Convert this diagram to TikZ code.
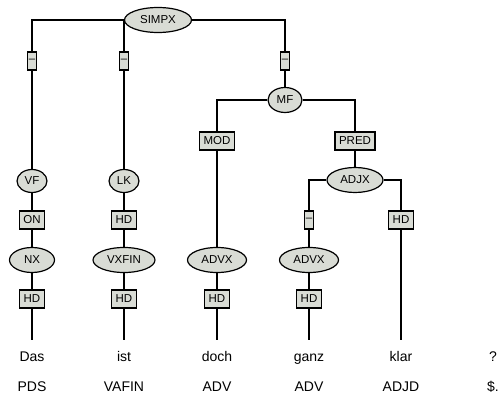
\documentclass[tikz,border=0pt]{standalone}
\usepackage{fontspec}
\setmainfont{Liberation Sans}
\usetikzlibrary{shapes.geometric}
\definecolor{catfill}{RGB}{217,220,213}

\begin{document}
\begin{tikzpicture}[
    x=1pt, y=-1pt,
    font=\fontsize{11.5}{13}\selectfont,
    cat/.style={draw, ellipse, fill=catfill, inner sep=0pt,
      minimum height=25pt, line width=1.2pt},
    lab/.style={draw, rectangle, fill=catfill, inner xsep=4pt,
      inner ysep=0pt, minimum height=18pt, line width=1.2pt},
    nolab/.style={lab, inner xsep=1.5pt, minimum width=9pt},
    word/.style={anchor=base, font=\fontsize{14}{16}\selectfont,
      text height=10pt, text depth=3pt, inner ysep=11pt},
    tag/.style={anchor=base, font=\fontsize{14}{16}\selectfont},
    edge/.style={line width=1.2pt}
]
\useasboundingbox (0,0) rectangle (501,393);
% categories
\node[cat, minimum width=67pt] (simpx) at (158,20)  {SIMPX};
\node[cat, minimum width=34pt] (mf)    at (285,100) {MF};
\node[cat, minimum width=30pt, minimum height=23pt] (vf) at (32,181)  {VF};
\node[cat, minimum width=30pt, minimum height=23pt] (lk) at (124,181) {LK};
\node[cat, minimum width=56pt] (adjx)  at (355,180) {ADJX};
\node[cat, minimum width=45pt] (nx)    at (32,260)  {NX};
\node[cat, minimum width=62pt] (vxfin) at (124,260) {VXFIN};
\node[cat, minimum width=59pt] (advxa) at (217,260) {ADVX};
\node[cat, minimum width=59pt] (advxb) at (309,260) {ADVX};
% edge labels
\node[nolab] (da) at (32,61)   {--};
\node[nolab] (db) at (124,61)  {--};
\node[nolab] (dc) at (285,61)  {--};
\node[nolab] (dd) at (309,220) {--};
\node[lab]   (mod)  at (217,141) {MOD};
\node[lab]   (pred) at (355,141) {PRED};
\node[lab]   (on)   at (32,220)  {ON};
\node[lab]   (hdlk) at (124,220) {HD};
\node[lab]   (hdkl) at (401,220) {HD};
\node[lab]   (hda)  at (32,299)  {HD};
\node[lab]   (hdb)  at (124,299) {HD};
\node[lab]   (hdc)  at (217,299) {HD};
\node[lab]   (hdd)  at (309,299) {HD};
% words and tags
\node[word] (das)  at (32,361)  {Das};
\node[word] (ist)  at (124,361) {ist};
\node[word] (doch) at (217,361) {doch};
\node[word] (ganz) at (309,361) {ganz};
\node[word] (klar) at (401,361) {klar};
\node[word] (qm)   at (493,361) {?};
\node[tag]  (pds)   at (32,391)  {PDS};
\node[tag]  (vafin) at (124,391) {VAFIN};
\node[tag]  (adva)  at (217,391) {ADV};
\node[tag]  (advb)  at (309,391) {ADV};
\node[tag]  (adjd)  at (401,391) {ADJD};
\node[tag]  (punct) at (493,391) {\$.};
% tree edges
\draw[edge] (simpx) -| (da);
\draw[edge] (simpx) -| (db);
\draw[edge] (simpx) -| (dc);
\draw[edge] (da) -- (vf);
\draw[edge] (vf) -- (on);
\draw[edge] (on) -- (nx);
\draw[edge] (nx) -- (hda);
\draw[edge] (hda) -- (das);
\draw[edge] (db) -- (lk);
\draw[edge] (lk) -- (hdlk);
\draw[edge] (hdlk) -- (vxfin);
\draw[edge] (vxfin) -- (hdb);
\draw[edge] (hdb) -- (ist);
\draw[edge] (dc) -- (mf);
\draw[edge] (mf) -| (mod);
\draw[edge] (mf) -| (pred);
\draw[edge] (mod) -- (advxa);
\draw[edge] (advxa) -- (hdc);
\draw[edge] (hdc) -- (doch);
\draw[edge] (pred) -- (adjx);
\draw[edge] (adjx) -| (dd);
\draw[edge] (adjx) -| (hdkl);
\draw[edge] (dd) -- (advxb);
\draw[edge] (advxb) -- (hdd);
\draw[edge] (hdd) -- (ganz);
\draw[edge] (hdkl) -- (klar);
\end{tikzpicture}
\end{document}
